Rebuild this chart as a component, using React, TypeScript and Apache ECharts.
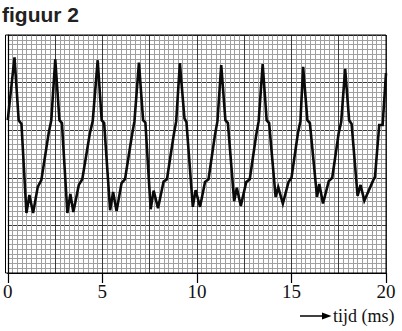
import React, { useEffect, useRef } from "react";
import * as echarts from "echarts";

const titleText = "figuur 2";
const axisName = "tijd (ms)";
const xTicks = [0, 5, 10, 15, 20];

const times = [
  0,
  0.357, 0.578, 0.725, 0.988, 1.146, 1.34, 1.587, 1.776, 2.165, 2.302,
  2.512, 2.733, 2.864, 3.153, 3.311, 3.468, 3.757, 3.941, 4.335, 4.493,
  4.756, 4.966, 5.097, 5.413, 5.57, 5.754, 6.017, 6.201, 6.569, 6.7,
  6.936, 7.157, 7.278, 7.557, 7.714, 7.945, 8.24, 8.418, 8.776, 8.907,
  9.101, 9.343, 9.448, 9.785, 9.932, 10.168, 10.431, 10.615, 10.956, 11.088,
  11.288, 11.508, 11.64, 11.971, 12.112, 12.323, 12.612, 12.796, 13.137, 13.268,
  13.479, 13.689, 13.82, 14.162, 14.304, 14.546, 14.845, 15.003, 15.344, 15.476,
  15.618, 15.844, 15.975, 16.353, 16.474, 16.669, 16.973, 17.157, 17.499, 17.63,
  17.84, 18.05, 18.182, 18.497, 18.655, 18.854, 19.327, 19.417, 19.643, 19.821,
  20,
];

const signal = [
  32.1,
  45.3, 32.1, 31.3, 12.6, 16.4, 12.6, 18.1, 19.5, 29.4, 32.1,
  44.9, 32.1, 31.5, 12.6, 16.6, 12.8, 18.5, 19.7, 29.2, 31.9,
  44.7, 32.1, 31.5, 13.2, 17.0, 13.0, 18.9, 19.7, 29.0, 31.9,
  44.2, 32.1, 31.6, 13.4, 17.3, 13.6, 19.2, 19.7, 29.0, 31.9,
  44.1, 32.5, 31.7, 13.9, 17.4, 13.9, 19.1, 19.7, 29.0, 31.9,
  43.7, 32.1, 31.5, 15.1, 17.9, 14.1, 19.1, 19.7, 29.0, 31.9,
  43.9, 32.1, 31.5, 16.0, 18.0, 14.6, 19.1, 20.0, 29.4, 31.9,
  43.3, 32.1, 31.5, 16.0, 18.7, 14.6, 19.3, 20.0, 29.4, 31.7,
  42.9, 32.1, 31.3, 16.2, 18.5, 15.2, 19.5, 20.2, 31.1, 31.1,
  42.0,
];

export default function App() {
  const ref = useRef<HTMLDivElement>(null);
  useEffect(() => {
    if (!ref.current) return;
    const chart = echarts.init(ref.current, null, { renderer: "svg" });
    const data = times.map((t, i) => [t, signal[i]]);
    chart.setOption({
      animation: false,
      backgroundColor: "#ffffff",
      grid: {
        left: 5.5,
        top: 35,
        width: 380.5,
        height: 238,
        show: false,
      },
      xAxis: [
        {
          type: "value",
          min: 0,
          max: 20,
          interval: 2.5,
          axisLine: { show: false },
          axisTick: { show: false },
          axisLabel: { show: false },
          splitLine: { show: true, lineStyle: { color: "#3a3a3a", width: 1 } },
          minorTick: { show: false, splitNumber: 10 },
          minorSplitLine: { show: true, lineStyle: { color: "#a0a0a0", width: 1 } },
        },
        {
          type: "value",
          min: 0,
          max: 20,
          interval: 5,
          position: "bottom",
          axisLine: { show: true, lineStyle: { color: "#000", width: 1.2 } },
          axisTick: { show: true, length: 10, inside: false, lineStyle: { color: "#000", width: 1.2 } },
          axisLabel: {
            show: true,
            margin: 9,
            fontFamily: "Liberation Serif",
            fontSize: 19,
            color: "#111",
            formatter: (v: number) => (xTicks.includes(v) ? String(v) : ""),
          },
          splitLine: { show: false },
        },
      ],
      yAxis: {
        type: "value",
        min: 0,
        max: 50,
        interval: 10,
        axisLine: { show: true, lineStyle: { color: "#000", width: 1.2 } },
        axisTick: { show: false },
        axisLabel: { show: false },
        splitLine: { show: true, lineStyle: { color: "#3a3a3a", width: 1 } },
        minorTick: { show: false, splitNumber: 10 },
        minorSplitLine: { show: true, lineStyle: { color: "#a0a0a0", width: 1 } },
      },
      series: [
        {
          type: "line",
          xAxisIndex: 0,
          data,
          symbol: "none",
          lineStyle: { color: "#0a0a0a", width: 2.6, join: "miter", miterLimit: 10 },
          clip: false,
        },
      ],
      graphic: [
        {
          type: "text",
          x: 2,
          y: 14,
          style: {
            text: titleText,
            font: "bold 21px 'Liberation Sans', Arial, sans-serif",
            fill: "#222",
            verticalAlign: "middle",
            align: "left",
          },
        },
        {
          type: "line",
          shape: { x1: 300, y1: 316, x2: 326, y2: 316 },
          style: { stroke: "#000", lineWidth: 1.5 },
        },
        {
          type: "polygon",
          shape: { points: [[322, 312.5], [331.5, 316], [322, 319.5]] },
          style: { fill: "#000" },
        },
        {
          type: "text",
          x: 333,
          y: 316,
          style: {
            text: axisName,
            font: "18px 'Liberation Serif', 'Times New Roman', serif",
            fill: "#111",
            verticalAlign: "middle",
            align: "left",
          },
        },
        {
          type: "rect",
          shape: { x: 5.5, y: 35, width: 380.5, height: 238 },
          style: { fill: "none", stroke: "#000", lineWidth: 1 },
          z: 1,
        },
      ],
    });
    return () => chart.dispose();
  }, []);
  return (
    <div
      ref={ref}
      style={{ position: "fixed", left: 0, top: 0, width: 402, height: 331 }}
    />
  );
}
